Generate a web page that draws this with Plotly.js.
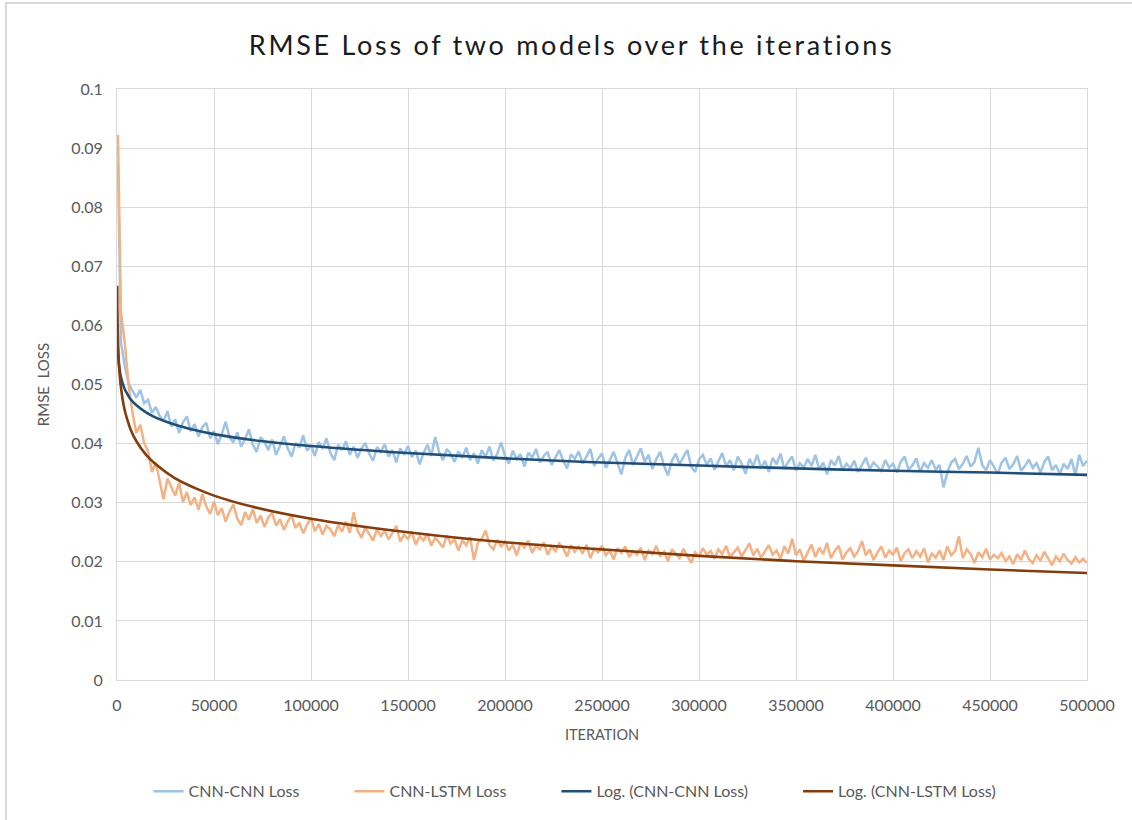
<!DOCTYPE html>
<html>
<head>
<meta charset="utf-8">
<script src="https://cdn.plot.ly/plotly-3.0.1.min.js"></script>
<style>
  html, body { margin: 0; padding: 0; background: #ffffff; }
  #chart { width: 1132px; height: 820px; }
  #frame { position: absolute; left: 5px; top: 2px; width: 1200px; height: 900px;
           border-top: 2px solid #d9d9d9; border-left: 2px solid #d9d9d9; pointer-events: none; }
  #chart .gtitle { letter-spacing: 2.7px; }
</style>
</head>
<body>
<div id="chart"></div>
<div id="frame"></div>
<script>
// ---- data ----
const FIRST_ITER = 500;
const ITER_STEP = 2000;

const cnnCnnLoss = [
0.0875,0.0572,0.0531,0.0502,0.0489,0.0478,0.0491,0.0468,0.0474,0.0452,
0.0462,0.0447,0.0438,0.0455,0.0429,0.0441,0.0418,0.0436,0.0446,0.0421,
0.0433,0.0412,0.0428,0.0435,0.0409,0.0421,0.0399,0.0416,0.0437,0.0411,
0.0402,0.0419,0.0395,0.0408,0.0424,0.0398,0.0386,0.0411,0.0403,0.0389,
0.0407,0.0381,0.0396,0.0412,0.0392,0.0378,0.0401,0.0393,0.0414,0.0388,
0.0397,0.0379,0.0403,0.0391,0.0409,0.0384,0.0372,0.0398,0.0389,0.0404,
0.0381,0.0395,0.0376,0.0392,0.0401,0.0383,0.0371,0.0394,0.0386,0.0399,
0.0378,0.0389,0.0368,0.0392,0.0381,0.0396,0.0377,0.0388,0.0365,0.0384,
0.0398,0.0379,0.0411,0.0386,0.0372,0.0391,0.0383,0.0369,0.0387,0.0376,
0.0393,0.0372,0.0384,0.0366,0.0389,0.0378,0.0395,0.0371,0.0383,0.0402,
0.0379,0.0366,0.0388,0.0374,0.0382,0.0361,0.0385,0.0376,0.0391,0.0368,
0.0379,0.0386,0.0364,0.0377,0.0389,0.0371,0.0358,0.0382,0.0374,0.0387,
0.0366,0.0378,0.0391,0.0362,0.0375,0.0383,0.0359,0.0372,0.0386,0.0367,
0.0348,0.0376,0.0389,0.0364,0.0379,0.0392,0.0369,0.0381,0.0357,0.0374,
0.0386,0.0362,0.0346,0.0371,0.0383,0.0365,0.0378,0.0389,0.0361,0.0352,
0.0373,0.0381,0.0364,0.0375,0.0356,0.0369,0.0384,0.0361,0.0372,0.0355,
0.0378,0.0366,0.0349,0.0374,0.0362,0.0381,0.0358,0.0371,0.0352,0.0376,
0.0365,0.0383,0.0357,0.0369,0.0378,0.0354,0.0367,0.0359,0.0374,0.0362,
0.0381,0.0356,0.0368,0.0348,0.0372,0.0363,0.0379,0.0355,0.0366,0.0358,
0.0371,0.0352,0.0364,0.0376,0.0357,0.0368,0.0361,0.0354,0.0372,0.0359,
0.0366,0.0351,0.0369,0.0378,0.0356,0.0363,0.0375,0.0352,0.0367,0.0359,
0.0372,0.0356,0.0364,0.0326,0.0351,0.0368,0.0374,0.0357,0.0366,0.0379,
0.0361,0.0369,0.0393,0.0364,0.0355,0.0372,0.0361,0.0349,0.0368,0.0376,
0.0357,0.0365,0.0379,0.0354,0.0362,0.0373,0.0359,0.0367,0.0351,0.0369,
0.0378,0.0355,0.0364,0.0348,0.0366,0.0357,0.0374,0.0346,0.0381,0.0362,
0.0371
];

const cnnLstmLoss = [
0.0922,0.0624,0.0571,0.0498,0.0452,0.0418,0.0432,0.0401,0.0387,0.0352,
0.0368,0.0339,0.0306,0.0341,0.0325,0.0312,0.0334,0.0301,0.0318,0.0296,
0.0309,0.0288,0.0315,0.0294,0.0281,0.0302,0.0279,0.0291,0.0268,0.0285,
0.0297,0.0273,0.0262,0.0284,0.0271,0.0289,0.0266,0.0278,0.0259,0.0275,
0.0283,0.0261,0.0272,0.0254,0.0268,0.0279,0.0257,0.0266,0.0248,0.0263,
0.0274,0.0252,0.0264,0.0246,0.0261,0.0255,0.0243,0.0262,0.0251,0.0268,
0.0249,0.0284,0.0253,0.0241,0.0258,0.0247,0.0236,0.0255,0.0244,0.0252,
0.0238,0.0249,0.0261,0.0234,0.0246,0.0239,0.0251,0.0229,0.0243,0.0236,
0.0248,0.0227,0.0241,0.0233,0.0224,0.0245,0.0231,0.0238,0.0219,0.0236,
0.0228,0.0242,0.0203,0.0232,0.0239,0.0253,0.0228,0.0221,0.0237,0.0226,
0.0234,0.0219,0.0229,0.0211,0.0232,0.0224,0.0236,0.0215,0.0227,0.0221,
0.0233,0.0212,0.0226,0.0218,0.0231,0.0223,0.0209,0.0228,0.0217,0.0225,
0.0214,0.0229,0.0206,0.0222,0.0216,0.0227,0.0211,0.0219,0.0204,0.0223,
0.0215,0.0226,0.0208,0.0218,0.0212,0.0224,0.0203,0.0219,0.0213,0.0227,
0.0209,0.0217,0.0201,0.0221,0.0214,0.0206,0.0222,0.0211,0.0198,0.0216,
0.0209,0.0223,0.0212,0.0218,0.0205,0.0221,0.0213,0.0227,0.0208,0.0216,
0.0224,0.0209,0.0219,0.0231,0.0211,0.0222,0.0207,0.0218,0.0228,0.0212,
0.0219,0.0205,0.0226,0.0214,0.0239,0.0211,0.0221,0.0202,0.0217,0.0229,
0.0208,0.0224,0.0213,0.0232,0.0206,0.0219,0.0227,0.0204,0.0216,0.0223,
0.0209,0.0218,0.0235,0.0211,0.0221,0.0203,0.0216,0.0226,0.0207,0.0219,
0.0212,0.0224,0.0201,0.0215,0.0221,0.0206,0.0218,0.0209,0.0223,0.0199,
0.0214,0.0207,0.0219,0.0203,0.0226,0.0211,0.0218,0.0243,0.0206,0.0221,
0.0213,0.0198,0.0216,0.0208,0.0222,0.0204,0.0212,0.0206,0.0215,0.0201,
0.0209,0.0196,0.0213,0.0203,0.0219,0.0205,0.0198,0.0211,0.0202,0.0217,
0.0206,0.0194,0.0209,0.0201,0.0214,0.0203,0.0197,0.0208,0.0199,0.0205,
0.0198
];

// logarithmic trend lines, sampled at these iterations
const trendIters = [100,200,300,500,700,1000,1500,2000,3000,4000,5000,7000,10000,15000,20000,
  30000,40000,50000,70000,100000,150000,200000,250000,300000,350000,400000,450000,500000];
const logCnnCnn = [0.0603,0.0582,0.0570,0.0555,0.0545,0.0534,0.0522,0.0513,0.0501,0.0492,0.0486,0.0475,0.0465,0.0453,0.0444,
  0.0432,0.0423,0.0416,0.0406,0.0396,0.0384,0.0375,0.0368,0.0363,0.0358,0.0354,0.0351,0.0347];
const logCnnLstm = [0.0667,0.0627,0.0604,0.0575,0.0556,0.0535,0.0512,0.0496,0.0473,0.0456,0.0444,0.0424,0.0404,0.0381,0.0365,
  0.0341,0.0325,0.0312,0.0293,0.0273,0.0250,0.0233,0.0221,0.0210,0.0201,0.0194,0.0187,0.0181];

const seriesNames = ['CNN-CNN Loss','CNN-LSTM Loss','Log. (CNN-CNN Loss)','Log. (CNN-LSTM Loss)'];
const xTickVals = [0,50000,100000,150000,200000,250000,300000,350000,400000,450000,500000];
const yTickVals = [0,0.01,0.02,0.03,0.04,0.05,0.06,0.07,0.08,0.09,0.1];

// sampling grid of the noisy series
const iters = cnnCnnLoss.map((_, i) => i === 0 ? FIRST_ITER : i * ITER_STEP);

// extra gap after legend entries (non-breaking spaces)
const PAD = '\u00a0'.repeat(11);

const FONT = 'Lato, "Open Sans", sans-serif';
const GRAY = '#595959';

const traces = [
  {x: iters, y: cnnCnnLoss, name: seriesNames[0] + PAD, type: 'scatter', mode: 'lines',
   line: {color: '#9dc3e6', width: 2.5}},
  {x: iters, y: cnnLstmLoss, name: seriesNames[1] + PAD, type: 'scatter', mode: 'lines',
   line: {color: '#f4b183', width: 2.5}},
  {x: trendIters, y: logCnnCnn, name: seriesNames[2] + PAD, type: 'scatter', mode: 'lines',
   line: {color: '#1f4e79', width: 2.6, shape: 'spline'}},
  {x: trendIters, y: logCnnLstm, name: seriesNames[3], type: 'scatter', mode: 'lines',
   line: {color: '#843c0c', width: 2.6, shape: 'spline'}}
];

const layout = {
  width: 1132, height: 820,
  margin: {l: 117, r: 45, t: 89, b: 140},
  paper_bgcolor: '#ffffff', plot_bgcolor: '#ffffff',
  font: {family: FONT, color: GRAY, size: 16},
  title: {text: 'RMSE Loss of two models over the iterations',
          font: {family: FONT, size: 27, color: '#1a1a1a'},
          x: 0.505, xanchor: 'center', xref: 'container',
          y: 0.945, yanchor: 'middle', yref: 'container'},
  xaxis: {range: [0, 500000], tickvals: xTickVals, tickformat: 'd',
          showgrid: true, gridcolor: '#d9d9d9', gridwidth: 1,
          showline: true, linecolor: '#d9d9d9', linewidth: 1, mirror: true,
          zeroline: false, ticks: '', ticklen: 0, ticklabelstandoff: 11,
          tickfont: {family: FONT, size: 16, color: GRAY},
          title: {text: 'ITERATION', font: {family: FONT, size: 14.5, color: GRAY}, standoff: 16}},
  yaxis: {range: [0, 0.1], tickvals: yTickVals,
          showgrid: true, gridcolor: '#d9d9d9', gridwidth: 1,
          showline: true, linecolor: '#d9d9d9', linewidth: 1, mirror: true,
          zeroline: false, ticks: '', ticklen: 0, ticklabelstandoff: 10,
          tickfont: {family: FONT, size: 16, color: GRAY},
          title: {text: 'RMSE  LOSS', font: {family: FONT, size: 15, color: GRAY}, standoff: 17}},
  legend: {orientation: 'h', xref: 'container', yref: 'container',
           x: 0.508, xanchor: 'center', y: 0.035, yanchor: 'middle',
           font: {family: FONT, size: 16, color: GRAY},
           itemwidth: 30, tracegroupgap: 0},
  showlegend: true
};

Plotly.newPlot('chart', traces, layout, {displayModeBar: false, staticPlot: true});
</script>
</body>
</html>
